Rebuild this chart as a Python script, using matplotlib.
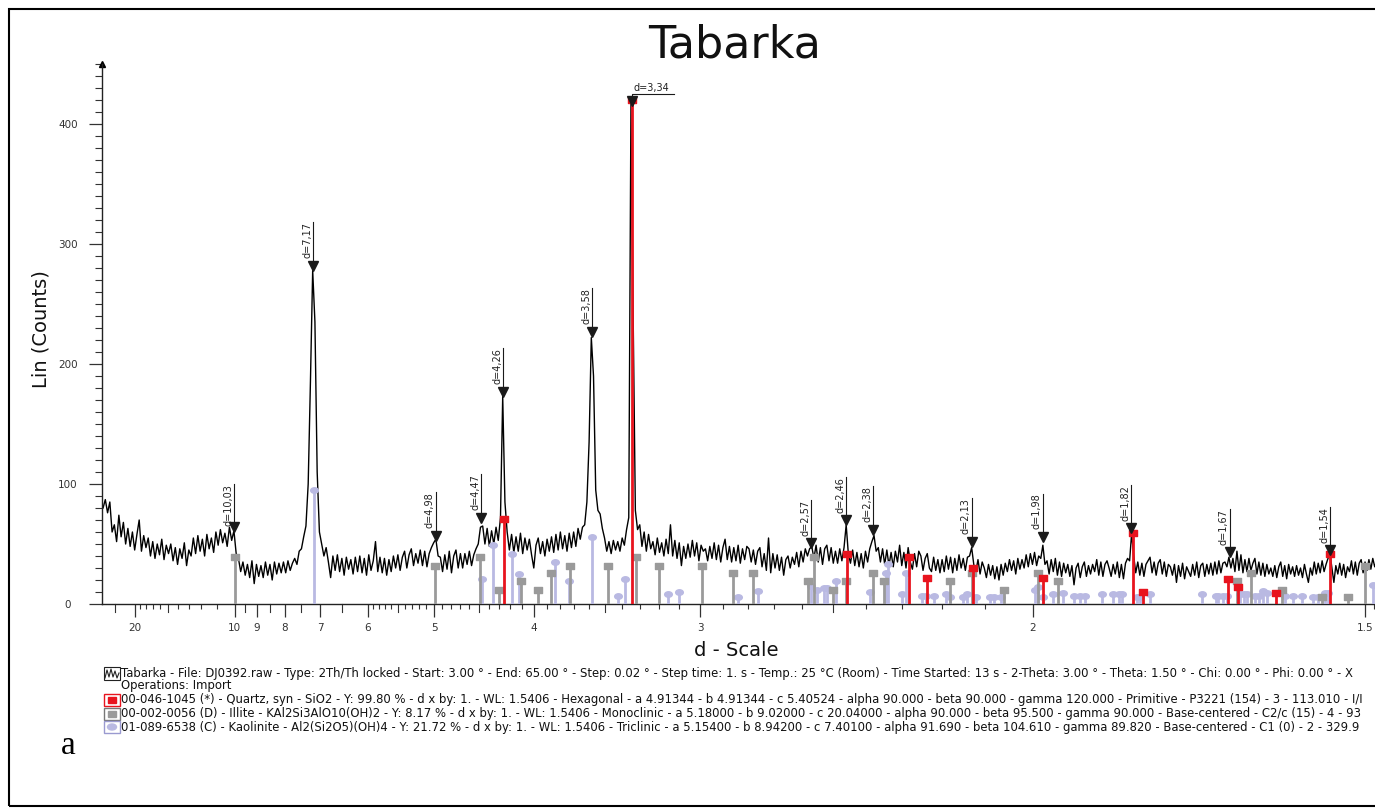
import numpy as np
import matplotlib.pyplot as plt
import matplotlib.transforms as mtransforms
from matplotlib.patches import Rectangle, Ellipse
from matplotlib.lines import Line2D
from matplotlib.path import Path

plt.rcParams['font.family'] = ['DejaVu Sans']

WAVELENGTH = 1.5406   # Cu K-alpha
START = 3.0           # first 2-theta of the scan (deg)
STEP = 0.1            # 2-theta step of the listed counts (deg)

# measured counts, one row per degree of 2-theta
counts = [
    80, 87, 76, 85, 60, 66, 52, 74, 56, 68,      # 3
    50, 63, 48, 60, 45, 58, 70, 44, 57, 47,      # 4
    55, 40, 52, 38, 50, 41, 54, 37, 49, 42,      # 5
    50, 36, 47, 33, 46, 38, 51, 32, 45, 40,      # 6
    55, 42, 57, 44, 54, 40, 58, 46, 55, 43,      # 7
    60, 49, 62, 51, 59, 48, 64, 53, 61, 42,      # 8
    38, 27, 35, 24, 33, 22, 36, 17, 33, 23,      # 9
    32, 22, 35, 24, 33, 20, 35, 25, 34, 26,      # 10
    35, 26, 36, 28, 34, 38, 33, 44, 46, 56,      # 11
    65, 100, 185, 278, 235, 110, 60, 50, 40, 47, # 12
    35, 22, 40, 28, 41, 27, 38, 24, 39, 29,      # 13
    37, 25, 39, 27, 40, 26, 38, 24, 41, 28,      # 14
    36, 52, 27, 39, 26, 38, 24, 37, 27, 40,      # 15
    30, 41, 28, 39, 44, 30, 41, 46, 32, 42,      # 16
    34, 45, 32, 44, 31, 42, 47, 51, 54, 40,      # 17
    39, 27, 41, 29, 44, 26, 40, 45, 30, 42,      # 18
    30, 42, 33, 44, 32, 41, 46, 50, 64, 65,      # 19
    50, 63, 48, 61, 50, 64, 53, 72, 173, 85,     # 20
    60, 45, 58, 43, 56, 44, 59, 42, 55, 45,      # 21
    54, 41, 30, 49, 55, 42, 52, 40, 54, 44,      # 22
    56, 43, 58, 45, 60, 46, 57, 44, 59, 47,      # 23
    60, 48, 63, 54, 64, 66, 85, 135, 222, 190,   # 24
    95, 78, 75, 63, 55, 44, 52, 42, 53, 45,      # 25
    52, 44, 55, 49, 62, 72, 417, 240, 78, 62,    # 26
    66, 48, 60, 44, 58, 46, 52, 41, 55, 43,      # 27
    51, 40, 54, 42, 66, 40, 53, 38, 51, 32,      # 28
    48, 38, 50, 39, 53, 40, 51, 36, 49, 44,      # 29
    46, 36, 48, 38, 51, 37, 49, 35, 47, 54,      # 30
    37, 48, 35, 47, 36, 49, 34, 46, 37, 48,      # 31
    46, 35, 45, 33, 44, 47, 31, 42, 28, 55,      # 32
    26, 42, 30, 41, 28, 39, 24, 37, 40, 30,      # 33
    39, 33, 43, 31, 44, 35, 46, 40, 46, 48,      # 34
    38, 49, 35, 47, 33, 46, 49, 36, 47, 34,      # 35
    44, 34, 46, 36, 47, 66, 42, 34, 45, 32,      # 36
    43, 31, 42, 30, 44, 35, 46, 52, 57, 44,      # 37
    47, 35, 46, 33, 45, 32, 43, 31, 44, 35,      # 38
    49, 32, 43, 30, 47, 35, 29, 42, 31, 44,      # 39
    40, 28, 38, 42, 30, 27, 39, 28, 37, 26,      # 40
    37, 27, 40, 29, 39, 26, 38, 28, 41, 30,      # 41
    38, 28, 39, 40, 47, 33, 27, 37, 25, 35,      # 42
    30, 22, 33, 24, 32, 21, 31, 20, 33, 24,      # 43
    34, 27, 37, 28, 36, 25, 38, 29, 37, 30,      # 44
    41, 31, 42, 33, 43, 32, 40, 38, 49, 33,      # 45
    36, 25, 37, 27, 38, 24, 35, 23, 34, 26,      # 46
    33, 23, 32, 16, 30, 34, 22, 31, 35, 23,      # 47
    32, 25, 33, 27, 37, 24, 35, 23, 33, 36,      # 48
    30, 23, 33, 25, 35, 22, 33, 21, 34, 38,      # 49
    36, 59, 40, 26, 35, 24, 34, 23, 33, 36,      # 50
    39, 26, 35, 24, 34, 37, 25, 35, 23, 33,      # 51
    31, 24, 33, 18, 32, 23, 34, 21, 31, 27,      # 52
    23, 33, 24, 35, 22, 32, 34, 23, 33, 25,      # 53
    34, 24, 35, 25, 36, 26, 34, 35, 31, 39,      # 54
    30, 38, 27, 44, 28, 41, 26, 37, 27, 38,      # 55
    28, 34, 38, 25, 35, 24, 34, 23, 33, 25,      # 56
    30, 23, 32, 22, 31, 35, 23, 32, 21, 33,      # 57
    25, 31, 23, 32, 24, 30, 22, 33, 25, 18,      # 58
    30, 24, 35, 25, 34, 26, 36, 27, 33, 38,      # 59
    42, 30, 18, 32, 25, 34, 24, 33, 22, 31,      # 60
    27, 36, 25, 35, 24, 34, 37, 26, 35, 28,      # 61
    37, 29, 38, 31, 36,                          # 62
]

# labelled reflections: d (Angstrom) and height of the marker
peak_d = [10.03, 7.17, 4.98, 4.47, 4.26, 3.58, 3.34, 2.57, 2.46, 2.38, 2.13, 1.98, 1.82, 1.67, 1.54]
peak_y = [64, 282, 57, 72, 177, 227, 419, 51, 70, 62, 52, 56, 63, 43, 45]

# reference patterns (d in Angstrom, stick height in counts)
quartz_d = [4.257, 3.342, 2.457, 2.282, 2.237, 2.127, 1.980, 1.817, 1.801, 1.672, 1.659, 1.608, 1.541]
quartz_h = [71, 420, 42, 39, 22, 30, 22, 59, 10, 21, 14, 9, 42]

illite_d = [10.0, 4.99, 4.48, 4.30, 4.11, 3.97, 3.87, 3.73, 3.48, 3.32, 3.20, 2.99, 2.86, 2.78, 2.58,
            2.56, 2.50, 2.46, 2.38, 2.35, 2.18, 2.13, 2.06, 1.99, 1.95, 1.66, 1.64, 1.60, 1.55, 1.52, 1.50]
illite_h = [39, 32, 39, 12, 19, 12, 26, 32, 32, 39, 32, 32, 26, 26, 19,
            39, 12, 19, 26, 19, 19, 26, 12, 26, 19, 19, 26, 12, 6, 6, 32]

kaolinite_d = [7.16, 4.46, 4.36, 4.18, 4.12, 3.84, 3.74, 3.58, 3.42, 3.38,
               3.15, 3.10, 2.84, 2.76, 2.57, 2.55, 2.53, 2.52, 2.49, 2.39,
               2.345, 2.34, 2.30, 2.29, 2.25, 2.24, 2.22, 2.19, 2.18, 2.15,
               2.14, 2.12, 2.09, 2.08, 2.065, 1.995, 1.99, 1.98, 1.96, 1.94,
               1.92, 1.91, 1.90, 1.87, 1.85, 1.84, 1.835, 1.81, 1.805, 1.79,
               1.71, 1.69, 1.686, 1.68, 1.674, 1.655, 1.65, 1.646, 1.635, 1.63,
               1.624, 1.62, 1.596, 1.586, 1.575, 1.561, 1.555, 1.547, 1.543, 1.491]
kaolinite_h = [95, 21, 49, 42, 25, 35, 19, 56, 7, 21,
               8, 10, 6, 11, 15, 12, 13, 13, 19, 10,
               26, 33, 8, 26, 7, 7, 7, 8, 6, 6,
               8, 6, 6, 6, 6, 12, 14, 6, 8, 9,
               7, 7, 7, 8, 8, 8, 8, 6, 6, 8,
               8, 7, 7, 7, 7, 8, 8, 8, 7, 7,
               11, 9, 7, 7, 7, 6, 6, 9, 9, 16]

# d-scale ticks
major_d = [20, 10, 9, 8, 7, 6, 5, 4, 3, 2, 1.5]
major_lbl = ['20', '10', '9', '8', '7', '6', '5', '4', '3', '2', '1.5']
mid_d = [25, 15, 9.5, 8.5, 7.5, 6.5, 5.5, 4.5, 3.5, 2.5]
minor_d = ([19, 18, 17, 16, 14, 13, 12, 11]
           + [5.9, 5.8, 5.7, 5.6, 5.4, 5.3, 5.2, 5.1]
           + [4.9, 4.8, 4.7, 4.6, 4.4, 4.3, 4.2, 4.1]
           + [3.9, 3.8, 3.7, 3.6, 3.4, 3.3, 3.2, 3.1]
           + [2.9, 2.8, 2.7, 2.6, 2.4, 2.3, 2.2, 2.1, 1.49])

legend_lines = [
    "Tabarka - File: DJ0392.raw - Type: 2Th/Th locked - Start: 3.00 \u00b0 - End: 65.00 \u00b0 - Step: 0.02 \u00b0 - "
    "Step time: 1. s - Temp.: 25 \u00b0C (Room) - Time Started: 13 s - 2-Theta: 3.00 \u00b0 - Theta: 1.50 \u00b0 - "
    "Chi: 0.00 \u00b0 - Phi: 0.00 \u00b0 - X",
    "Operations: Import",
    "00-046-1045 (*) - Quartz, syn - SiO2 - Y: 99.80 % - d x by: 1. - WL: 1.5406 - Hexagonal - a 4.91344 - "
    "b 4.91344 - c 5.40524 - alpha 90.000 - beta 90.000 - gamma 120.000 - Primitive - P3221 (154) - 3 - 113.010 - I/I",
    "00-002-0056 (D) - Illite - KAl2Si3AlO10(OH)2 - Y: 8.17 % - d x by: 1. - WL: 1.5406 - Monoclinic - a 5.18000 - "
    "b 9.02000 - c 20.04000 - alpha 90.000 - beta 95.500 - gamma 90.000 - Base-centered - C2/c (15) - 4 - 93",
    "01-089-6538 (C) - Kaolinite - Al2(Si2O5)(OH)4 - Y: 21.72 % - d x by: 1. - WL: 1.5406 - Triclinic - a 5.15400 - "
    "b 8.94200 - c 7.40100 - alpha 91.690 - beta 104.610 - gamma 89.820 - Base-centered - C1 (0) - 2 - 329.9",
]

RED = '#e8141e'
GREY = '#9a9a9a'
LAVENDER = '#b9b9e2'
INK = '#1a1a1a'

W, H = 1375, 811
fig = plt.figure(figsize=(W / 100, H / 100), dpi=100)


def fx(x):
    return x / W


def fy(y):
    return 1 - y / H


def inv(d):
    return 1.0 / np.asarray(d, dtype=float)


two_theta = START + STEP * np.arange(len(counts))
q = 2 * np.sin(np.radians(two_theta / 2)) / WAVELENGTH   # 1/d, linear d-scale axis

ax = fig.add_axes([fx(102), fy(604), fx(1375) - fx(102), fy(64) - fy(604)])
ax.plot(q, counts, color='black', lw=1.0, zorder=2)

# stick patterns
rect_marker = Path([(-1, -0.7), (1, -0.7), (1, 0.7), (-1, 0.7), (-1, -0.7)],
                   [Path.MOVETO, Path.LINETO, Path.LINETO, Path.LINETO, Path.CLOSEPOLY])
circ = Path.unit_circle()
oval_marker = Path(circ.vertices * [1.0, 0.72], circ.codes)

for d, h, col, mk, z in [(kaolinite_d, kaolinite_h, LAVENDER, oval_marker, 3),
                         (illite_d, illite_h, GREY, rect_marker, 3.5),
                         (quartz_d, quartz_h, RED, rect_marker, 4)]:
    ax.vlines(inv(d), 0, h, color=col, lw=2.0, zorder=z)
    ax.plot(inv(d), h, ls='none', marker=mk, ms=5.5, color=col, zorder=z)

# peak markers with d labels
for d, y in zip(peak_d, peak_y):
    x = 1.0 / d
    lbl = 'd=' + f'{d:.2f}'.replace('.', ',')
    ax.plot(x, y, marker='v', ms=6.5, color=INK, zorder=6, clip_on=False)
    if d == 3.34:
        ax.plot([x, x, x + 0.021], [y, y + 6, y + 6], color=INK, lw=0.8, zorder=6, clip_on=False)
        ax.text(x + 0.0005, y + 6.5, lbl, fontsize=7, ha='left', va='bottom', color='#222222')
    else:
        ax.plot([x, x], [y, y + 36], color=INK, lw=0.8, zorder=6)
        ax.text(x - 0.0004, y + 36, lbl, fontsize=7, rotation=90, rotation_mode='anchor',
                ha='right', va='bottom', color='#222222')

ax.set_xlim(0.033455, 0.671674)
ax.set_ylim(0, 450)

ax.set_xticks(inv(major_d))
ax.set_xticklabels(major_lbl)
ax.set_xticks(inv(minor_d), minor=True)
ax.set_yticks(np.arange(0, 401, 100))
ax.set_yticks(np.arange(0, 451, 10), minor=True)

ax.tick_params(axis='x', which='major', length=9.4, width=0.9, labelsize=7.5, pad=4, colors='#333333')
ax.tick_params(axis='x', which='minor', length=3.6, width=0.8, colors='#333333')
ax.tick_params(axis='y', which='major', length=9.4, width=0.9, labelsize=7.5, pad=15, colors='#333333')
ax.tick_params(axis='y', which='minor', length=5.0, width=0.8, colors='#333333')
plt.setp(ax.get_yticklabels(), ha='center')

trans = mtransforms.blended_transform_factory(ax.transData, ax.transAxes)
for d in mid_d:
    ax.plot([1.0 / d, 1.0 / d], [0, -8 / 540], transform=trans, color='#333333', lw=0.8, clip_on=False)

for side in ['top', 'right']:
    ax.spines[side].set_visible(False)
for side in ['left', 'bottom']:
    ax.spines[side].set_linewidth(1.0)
    ax.spines[side].set_color('#222222')
ax.patch.set_alpha(0)

# arrow head on the count axis
ax.plot(0, 1.0, marker='^', ms=5, color='black', transform=ax.transAxes, clip_on=False)

# texts around the plot
fig.text(fx(735), fy(57), 'Tabarka', ha='center', va='baseline', fontsize=32, color='#111111')
fig.text(fx(41), fy(329), 'Lin (Counts)', ha='center', va='center', rotation=90, fontsize=14, color='#111111')
fig.text(fx(736), fy(651), 'd - Scale', ha='center', va='center', fontsize=14, color='#111111')
fig.text(fx(61), fy(746), 'a', ha='left', va='center', fontsize=24, family='Liberation Serif')

# legend rows
rows_y = [673, 686, 700, 714, 727]
for y, txt in zip(rows_y, legend_lines):
    fig.text(fx(121), fy(y), txt, ha='left', va='center', fontsize=8.4, color='#111111')


def box(x0, y0, x1, y1, **kw):
    fig.add_artist(Rectangle((fx(x0), fy(y1)), (x1 - x0) / W, (y1 - y0) / H,
                             transform=fig.transFigure, **kw))


# scan icon
box(104, 667, 120, 680, fill=False, ec='#222222', lw=0.8)
fig.add_artist(Line2D([fx(v) for v in [105, 107, 109, 111, 113, 115, 117, 119]],
                      [fy(v) for v in [678, 670, 677, 669, 677, 671, 678, 673]],
                      transform=fig.transFigure, color='#222222', lw=0.8))
# phase icons
for y, col, ec in [(700, RED, RED), (714, GREY, '#777777'), (727, LAVENDER, '#9a9ad0')]:
    box(104, y - 6, 120, y + 6, fill=False, ec=ec, lw=1.0)
    if col == LAVENDER:
        fig.add_artist(Ellipse((fx(112), fy(y)), 9 / W, 6 / H, transform=fig.transFigure, color=col))
    else:
        box(108, y - 3, 116, y + 3, color=col)

# outer frame
fig.add_artist(Rectangle((fx(9), fy(806)), (1400 - 9) / W, (806 - 9) / H,
                         transform=fig.transFigure, fill=False, ec='black', lw=1.5))

fig.savefig('out.png', dpi=100)
